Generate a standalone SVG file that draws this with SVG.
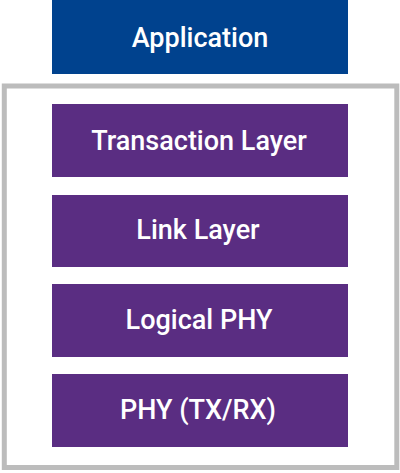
<svg xmlns="http://www.w3.org/2000/svg" width="400" height="473" viewBox="0 0 400 473">
<style>
.box{fill:#5a2d82}
.app{fill:#00428e}
.lbl{font-family:Roboto,"Liberation Sans",sans-serif;font-weight:500;font-size:27px;fill:#ffffff;text-anchor:middle}
</style>
<rect x="0" y="0" width="400" height="473" fill="#ffffff"/>
<g id="container">
<rect x="4.3" y="86" width="392.5" height="381.5" fill="none" stroke="#bcbcbc" stroke-width="5"/>
</g>
<g id="connectors"></g>
<g id="application">
<rect class="app" x="52" y="0" width="296" height="74"/>
<text class="lbl" x="200" y="47">Application</text>
</g>
<g id="transaction-layer">
<rect class="box" x="52" y="104" width="296" height="73"/>
<text class="lbl" x="199" y="149.5">Transaction Layer</text>
</g>
<g id="link-layer">
<rect class="box" x="52" y="195" width="296" height="72"/>
<text class="lbl" x="198" y="239">Link Layer</text>
</g>
<g id="logical-phy">
<rect class="box" x="52" y="284" width="296" height="73"/>
<text class="lbl" x="199" y="329">Logical PHY</text>
</g>
<g id="phy-txrx">
<rect class="box" x="52" y="374" width="296" height="73"/>
<text class="lbl" x="198" y="419">PHY (TX/RX)</text>
</g>
</svg>
